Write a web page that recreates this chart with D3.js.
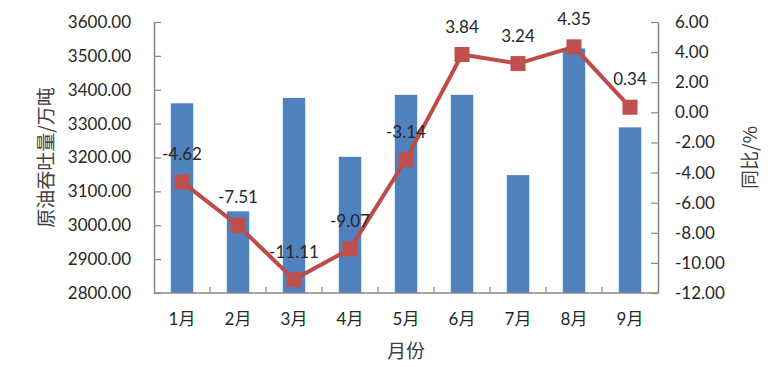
<!DOCTYPE html>
<html>
<head>
<meta charset="utf-8">
<script src="https://cdn.jsdelivr.net/npm/d3@7"></script>
<style>
  body { margin: 0; background: #fff; }
  text { font-family: Lato, "Noto Sans CJK SC", sans-serif; fill: #262626; }
</style>
</head>
<body>
<div id="chart"></div>
<script>
let width = 779,
    height = 367;

// data
const months = ["1月", "2月", "3月", "4月", "5月", "6月", "7月", "8月", "9月"];
const volume = [3360, 3041, 3376, 3202, 3385, 3385, 3148, 3522, 3289];
const yoy = [-4.62, -7.51, -11.11, -9.07, -3.14, 3.84, 3.24, 4.35, 0.34];
const leftTicks = [2800, 2900, 3000, 3100, 3200, 3300, 3400, 3500, 3600];
const rightTicks = [-12, -10, -8, -6, -4, -2, 0, 2, 4, 6];

const margin = {top: 22, right: 121, bottom: 74, left: 154};
const innerW = width - margin.left - margin.right,
      innerH = height - margin.top - margin.bottom;

// plain hyphen instead of unicode minus
const fmt = function (d) { return d3.format(".2f")(d).replace("\u2212", "-"); };

const svg = d3.select("#chart")
  .append("svg")
  .attr("width", width)
  .attr("height", height);

const g = svg.append("g")
  .attr("transform", "translate(" + margin.left + "," + margin.top + ")");

const x = d3.scaleBand()
  .domain(months)
  .range([0, innerW])
  .paddingInner(0.6)
  .paddingOuter(0.3);

const yL = d3.scaleLinear().domain([2800, 3600]).range([innerH, 0]);
const yR = d3.scaleLinear().domain([-12, 6]).range([innerH, 0]);

const axisColor = "#868686";

// bars
g.selectAll(".bar")
  .data(months)
  .enter().append("rect")
  .attr("class", "bar")
  .attr("x", function (d) { return x(d); })
  .attr("width", x.bandwidth())
  .attr("y", function (d, i) { return yL(volume[i]); })
  .attr("height", function (d, i) { return innerH - yL(volume[i]); })
  .style("fill", "#4F81BD");

// left axis
const leftAxis = g.append("g")
  .call(d3.axisLeft(yL).tickValues(leftTicks).tickSizeInner(-7).tickSizeOuter(0)
    .tickFormat(fmt).tickPadding(23));
// right axis
const rightAxis = g.append("g")
  .attr("transform", "translate(" + innerW + ",0)")
  .call(d3.axisRight(yR).tickValues(rightTicks).tickSizeInner(-7).tickSizeOuter(0)
    .tickFormat(fmt).tickPadding(17));
// bottom axis, ticks between categories
const step = innerW / months.length;
const bottomAxis = g.append("g")
  .attr("transform", "translate(0," + innerH + ")");
bottomAxis.append("line")
  .attr("x1", 0).attr("x2", innerW)
  .style("stroke", axisColor).style("stroke-width", 1.5);
bottomAxis.selectAll(".sep")
  .data(d3.range(1, months.length))
  .enter().append("line")
  .attr("x1", function (d) { return d * step; })
  .attr("x2", function (d) { return d * step; })
  .attr("y1", 0).attr("y2", -6)
  .style("stroke", axisColor).style("stroke-width", 1.2);
bottomAxis.selectAll(".mlabel")
  .data(months)
  .enter().append("text")
  .attr("x", function (d) { return x(d) + x.bandwidth() / 2; })
  .attr("y", 32)
  .attr("text-anchor", "middle")
  .style("font-size", "17px")
  .text(function (d) { return d; });

[leftAxis, rightAxis].forEach(function (a) {
  a.select(".domain").style("stroke", axisColor).style("stroke-width", 1.5);
  a.selectAll(".tick line").style("stroke", axisColor).style("stroke-width", 1.2);
  a.selectAll(".tick text").style("font-size", "17px").style("fill", "#262626")
    .style("font-family", "Lato, sans-serif");
});

// line
const cx = function (i) { return x(months[i]) + x.bandwidth() / 2; };
const line = d3.line()
  .x(function (d, i) { return cx(i); })
  .y(function (d) { return yR(d); });

g.append("path")
  .datum(yoy)
  .attr("d", line)
  .style("fill", "none")
  .style("stroke", "#BE4B48")
  .style("stroke-width", 4);

g.selectAll(".marker")
  .data(yoy)
  .enter().append("rect")
  .attr("class", "marker")
  .attr("x", function (d, i) { return cx(i) - 7.5; })
  .attr("y", function (d) { return yR(d) - 7.5; })
  .attr("width", 15)
  .attr("height", 15)
  .style("fill", "#C0504D");

g.selectAll(".vlabel")
  .data(yoy)
  .enter().append("text")
  .attr("x", function (d, i) { return cx(i); })
  .attr("y", function (d) { return yR(d) - 22; })
  .attr("text-anchor", "middle")
  .style("font-size", "17px")
  .text(fmt);

// axis titles
svg.append("text")
  .attr("transform", "translate(53," + (margin.top + innerH / 2) + ") rotate(-90)")
  .attr("text-anchor", "middle")
  .style("font-size", "19px")
  .style("fill", "#404040")
  .style("font-family", "'Noto Sans CJK SC', sans-serif")
  .text("原油吞吐量/万吨");

svg.append("text")
  .attr("transform", "translate(757," + (margin.top + innerH / 2) + ") rotate(-90)")
  .attr("text-anchor", "middle")
  .style("font-size", "19px")
  .style("fill", "#404040")
  .style("font-family", "'Noto Sans CJK SC', sans-serif")
  .text("同比/%");

svg.append("text")
  .attr("x", margin.left + innerW / 2)
  .attr("y", 358)
  .attr("text-anchor", "middle")
  .style("font-size", "19px")
  .style("fill", "#404040")
  .style("font-family", "'Noto Sans CJK SC', sans-serif")
  .text("月份");
</script>
</body>
</html>
